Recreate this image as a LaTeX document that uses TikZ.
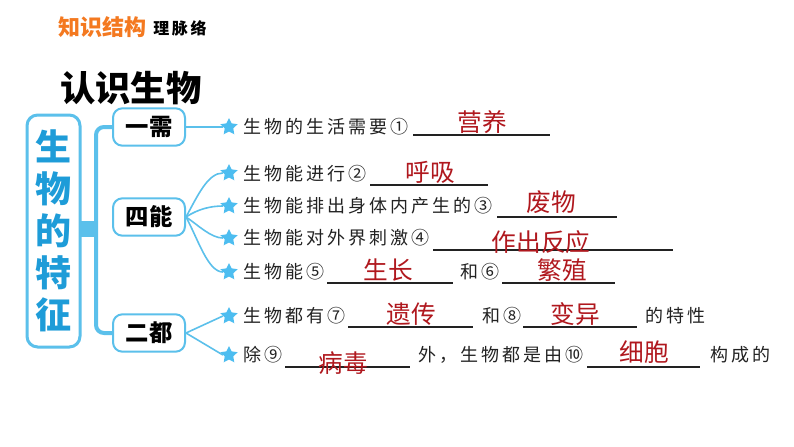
\documentclass[tikz,border=0pt]{standalone}
\usepackage{fontspec}
\usetikzlibrary{shapes.geometric}
\newfontfamily\cjk{Noto Sans CJK SC}
\newfontfamily\cjksp[LetterSpace=17]{Noto Sans CJK SC}
\definecolor{lblue}{HTML}{5BC0EB}
\definecolor{sblue}{HTML}{4DBDF0}
\definecolor{tblue}{HTML}{1E9CD8}
\definecolor{ansred}{HTML}{B0181E}
\definecolor{orng}{HTML}{F47920}
\definecolor{txt}{HTML}{222222}
\begin{document}
\begin{tikzpicture}[x=0.75pt,y=-0.75pt,
  mainbox/.style={draw=lblue, line width=2.25pt, rounded corners=8pt, fill=white, inner sep=0},
  subbox/.style={draw=lblue, line width=1.5pt, rounded corners=7pt, fill=white, minimum width=54pt, minimum height=28pt, inner sep=0, font=\cjk\bfseries\fontsize{17.5}{19}\selectfont, text=black},
  starn/.style={star, star points=5, star point ratio=2.0, fill=sblue, minimum size=13.5pt, inner sep=0},
  conn/.style={draw=lblue, line width=1.2pt},
  bracket/.style={draw=lblue, line width=3pt, rounded corners=6pt},
  rowt/.style={anchor=west, inner sep=0, text=txt, font=\cjksp\fontsize{13.5}{16}\selectfont},
  ans/.style={inner sep=0, text=ansred, font=\cjk\fontsize{18.5}{20}\selectfont},
  uline/.style={draw=txt, line width=0.8pt}]
\path[use as bounding box] (0,0) rectangle (794,447);
\fill[white] (0,0) rectangle (794,447);

% header
\node[anchor=west, inner sep=0, text=orng, font=\cjk\bfseries\fontsize{16.5}{18}\selectfont] (hd) at (58,27) {知识结构};
\node[anchor=west, inner sep=0, text=black, font=\cjksp\bfseries\fontsize{12}{14}\selectfont] (hd2) at (153,28) {理脉络};
\node[anchor=west, inner sep=0, text=black, font=\cjk\bfseries\fontsize{26.5}{28}\selectfont] (title) at (60,88) {认识生物};

% main box
\node[mainbox, minimum width=39.75pt, minimum height=174pt] (main) at (53.5,231) {};
\node[inner sep=0, align=center, text=tblue, font=\cjk\bfseries\fontsize{27}{31.5}\selectfont] (mt) at (53.5,231) {生\\物\\的\\特\\征};
\node[fill=lblue, minimum width=12pt, minimum height=12pt, inner sep=0] (tab) at (88,229) {};

% sub boxes
\node[subbox] (yx) at (149,127) {一需};
\node[subbox] (sn) at (149,217) {四能};
\node[subbox] (ed) at (149,333) {二都};
\draw[bracket] (yx.west) -- ++(-16,0) |- (ed.west);

% stars
\foreach \n/\y in {1/127,2/173,3/206,4/238,5/272,6/316,7/355}
  \node[starn] (s\n) at (229,\y) {};

% connectors
\draw[conn] (yx.east) -- (s1.west);
\draw[conn] (sn.east) .. controls +(12,-22) and +(-15,0) .. (s2.west);
\draw[conn] (sn.east) .. controls +(12,-8) and +(-12,0) .. (s3.west);
\draw[conn] (sn.east) .. controls +(12,8) and +(-12,0) .. (s4.west);
\draw[conn] (sn.east) .. controls +(12,22) and +(-15,0) .. (s5.west);
\draw[conn] (ed.east) -- (s6.west);
\draw[conn] (ed.east) -- (s7.west);

% row 1
\node[rowt] (t1) at (243,127) {生物的生活需要①};
\draw[uline] (413,135) -- (550,135);
\node[ans] (a1) at (482,122) {营养};
% row 2
\node[rowt] (t2) at (243,174) {生物能进行②};
\draw[uline] (370,185) -- (488,185);
\node[ans] (a2) at (430,172) {呼吸};
% row 3
\node[rowt] (t3) at (243,206) {生物能排出身体内产生的③};
\draw[uline] (497,217) -- (617,217);
\node[ans] (a3) at (551,202) {废物};
% row 4
\node[rowt] (t4) at (243,238) {生物能对外界刺激④};
\draw[uline] (433,250) -- (673,250);
\node[ans] (a4) at (541,242) {作出反应};
% row 5
\node[rowt] (t5a) at (243,272) {生物能⑤};
\draw[uline] (327,283) -- (453,283);
\node[ans] (a5) at (388,270) {生长};
\node[rowt] (t5b) at (460,272) {和⑥};
\draw[uline] (502,283) -- (615,283);
\node[ans] (a6) at (562,270) {繁殖};
% row 6
\node[rowt] (t6a) at (243,316) {生物都有⑦};
\draw[uline] (348,327) -- (473,327);
\node[ans] (a7) at (411,314) {遗传};
\node[rowt] (t6b) at (482,316) {和⑧};
\draw[uline] (523,327) -- (637,327);
\node[ans] (a8) at (575,314) {变异};
\node[rowt] (t6c) at (645,316) {的特性};
% row 7
\node[rowt] (t7a) at (243,355) {除⑨};
\draw[uline] (285,367) -- (410,367);
\node[ans] (a9) at (343,363) {病毒};
\node[rowt] (t7b) at (418,355) {外，生物都是由⑩};
\draw[uline] (587,367) -- (700,367);
\node[ans] (a10) at (644,352) {细胞};
\node[rowt] (t7c) at (710,355) {构成的};
\end{tikzpicture}
\end{document}
